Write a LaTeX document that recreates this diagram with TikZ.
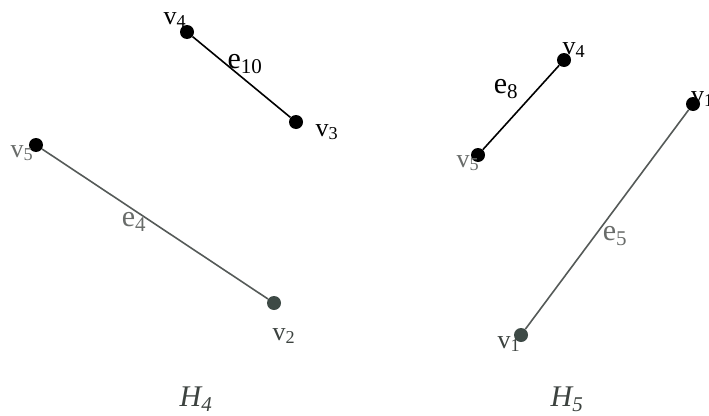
\documentclass[tikz,border=0pt]{standalone}
\usepackage{fontspec}
\setmainfont{Liberation Serif}
\usetikzlibrary{positioning}
\definecolor{gline}{RGB}{85,90,88}
\definecolor{gdot}{RGB}{62,74,70}
\definecolor{glabel}{RGB}{105,108,106}
\definecolor{gtext}{RGB}{60,66,63}

\tikzset{
  vdot/.style={circle, fill, inner sep=0pt, minimum size=14pt},
  vlab/.style={inner sep=0pt, font=\fontsize{26}{26}\selectfont},
  elab/.style={inner sep=0pt, font=\fontsize{30}{30}\selectfont},
  hlab/.style={inner sep=0pt, font=\fontsize{30}{30}\selectfont\itshape},
  edge/.style={line width=1.6pt}
}

\begin{document}
\begin{tikzpicture}[x=1pt, y=-1pt]
\useasboundingbox (0,0) rectangle (709,415);

% H4
\node[vdot] (v4a) at (187,32) {};
\node[vdot] (v3a) at (296,122) {};
\node[vdot] (v5a) at (36,145) {};
\node[vdot, color=gdot] (v2a) at (274,303) {};

\draw[edge] (v4a) -- (v3a);
\draw[edge, color=gline] (v5a) -- (v2a);

\node[vlab] (lv4a) at (175,20) {v\textsubscript{4}};
\node[vlab] (lv3a) at (327,132) {v\textsubscript{3}};
\node[vlab, color=glabel] (lv5a) at (22,153) {v\textsubscript{5}};
\node[vlab, color=gtext] (lv2a) at (284,336) {v\textsubscript{2}};
\node[elab] (le10) at (245,64) {e\textsubscript{10}};
\node[elab, color=glabel] (le4) at (134,222) {e\textsubscript{4}};
\node[hlab, color=gtext] (lh4) at (196,399) {H\textsubscript{4}};

% H5
\node[vdot] (v4b) at (564,60) {};
\node[vdot] (v5b) at (478,155) {};
\node[vdot] (v1b) at (693,104) {};
\node[vdot, color=gdot] (v1c) at (521,335) {};

\draw[edge] (v5b) -- (v4b);
\draw[edge, color=gline] (v1c) -- (v1b);

\node[vlab] (lv4b) at (574,50) {v\textsubscript{4}};
\node[vlab, color=glabel] (lv5b) at (468,163) {v\textsubscript{5}};
\node[vlab, anchor=west] (lv1b) at (691,99) {v\textsubscript{1}};
\node[vlab, color=gtext] (lv1c) at (509,344) {v\textsubscript{1}};
\node[elab] (le8) at (506,89) {e\textsubscript{8}};
\node[elab, color=glabel] (le5) at (615,236) {e\textsubscript{5}};
\node[hlab, color=gtext] (lh5) at (567,399) {H\textsubscript{5}};
\end{tikzpicture}
\end{document}
